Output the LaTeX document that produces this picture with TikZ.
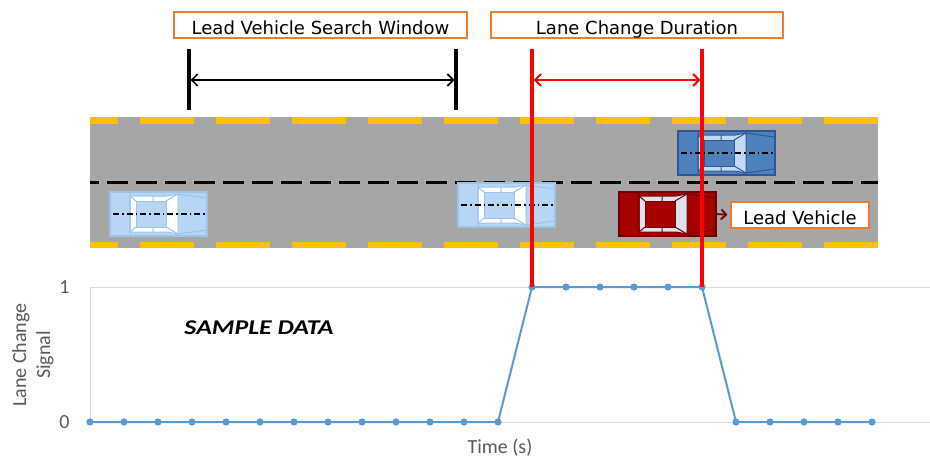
\documentclass[tikz,border=0pt]{standalone}
\usepackage{fontspec}
\setmainfont{DejaVu Sans}
\newfontfamily\chartfont{Carlito}
\newfontfamily\notefont[FakeStretch=1.23]{Carlito}
\usetikzlibrary{arrows.meta,positioning}
\definecolor{roadgray}{RGB}{166,166,166}
\definecolor{laneyellow}{RGB}{255,192,0}
\definecolor{boxorange}{RGB}{237,125,49}
\definecolor{sigblue}{RGB}{91,155,213}
\definecolor{gridgray}{RGB}{217,217,217}
\definecolor{ticktext}{RGB}{89,89,89}
\definecolor{pale}{RGB}{183,214,245}
\definecolor{paleedge}{RGB}{157,195,230}
\definecolor{midblue}{RGB}{79,129,189}
\definecolor{midedge}{RGB}{47,85,151}
\definecolor{midglass}{RGB}{197,217,241}
\definecolor{leadred}{RGB}{166,0,0}
\definecolor{leadedge}{RGB}{112,0,0}
\definecolor{leadglass}{RGB}{222,226,236}
\tikzset{
  pics/car/.style n args={4}{code={
    \draw[fill=#1,draw=#2,line width=1.5] (0,0) rectangle (97,44);
    \draw[fill=#3,draw=#2,line width=1] (20,4) -- (57,4) -- (68,2) -- (68,42) -- (57,40) -- (20,40) -- cycle;
    \draw[fill=#1,draw=#2,line width=1] (26,9) rectangle (56,35);
    \draw[#2,line width=1] (20,4) -- (26,9) (20,40) -- (26,35) (56,9) -- (68,2) (56,35) -- (68,42)
      (43,4) -- (43,9) (43,35) -- (43,40) (68,2) -- (96,6) (68,42) -- (96,38) (20,1) -- (20,43);
    \draw[#4] (3,22) -- (97,22);
  }},
  centerline/.style={black,line width=1.2,dash pattern=on 6pt off 3pt on 1.5pt off 3pt},
  labelbox/.style={draw=boxorange,fill=white,line width=1.2,minimum height=26,inner sep=0,
    text height=18.6,text depth=0,font=\fontsize{18}{20}\selectfont},
  window/.style={line width=3.5},
  duration/.style={red,line width=3.5},
  span/.style={{Straight Barb[length=6,width=12]}-{Straight Barb[length=6,width=12]},line width=1.6},
  grid/.style={gridgray,line width=1},
  signal/.style={sigblue,line width=2},
  tick/.style={ticktext,font=\chartfont\fontsize{20}{24}\selectfont},
}
\begin{document}
\begin{tikzpicture}[x=1pt,y=-1pt]
\useasboundingbox (0,0) rectangle (930,460);
% road
\fill[roadgray] (90,117) rectangle (878,248);
\begin{scope}
  \clip (90,117) rectangle (878,248);
  \foreach \k in {-1,...,9} {
    \fill[laneyellow] (140+76*\k,117) rectangle ++(54,7);
    \fill[laneyellow] (140+76*\k,242) rectangle ++(54,6);
  }
\end{scope}
\draw[line width=3,dash pattern=on 21pt off 8pt,dash phase=12pt] (90,182) -- (878,182);
% vehicles
\pic at (110,192) {car={pale}{paleedge}{white}{centerline}};
\pic at (458,183) {car={pale}{paleedge}{white}{centerline}};
\pic at (678,131) {car={midblue}{midedge}{midglass}{centerline}};
\pic at (619,192) {car={leadred}{leadedge}{leadglass}{draw=none}};
\coordinate (nose) at (716,214);
\node[labelbox,minimum width=138] (leadlbl) at (800,215) {Lead Vehicle};
\draw[leadedge,line width=1.8,-{Straight Barb[length=5,width=10]},shorten >=3] (nose) -- (leadlbl.west);
% search window
\node[labelbox,minimum width=293] (searchlbl) at (320.5,25) {Lead Vehicle Search Window};
\coordinate (swtop) at (189,49);
\coordinate (swbot) at (189,110);
\coordinate (setop) at (456,49);
\coordinate (sebot) at (456,110);
\coordinate (swmid) at (189,80);
\coordinate (semid) at (456,80);
\draw[window] (swtop) -- (swbot);
\draw[window] (setop) -- (sebot);
\draw[span,shorten <=1.5,shorten >=1.5] (swmid) -- (semid);
% signal chart
\coordinate (axtop) at (90,287);
\coordinate (axbot) at (90,422);
\coordinate (gridone) at (930,287);
\coordinate (gridzero) at (930,422);
\draw[grid] (axtop) -- (gridone);
\draw[grid] (axbot) -- (gridzero);
\draw[grid] (axtop) -- (axbot);
\foreach \v [count=\i from 0] in {0,0,0,0,0,0,0,0,0,0,0,0,0,1,1,1,1,1,1,0,0,0,0,0}
  \coordinate (p\i) at (90+34*\i,422-135*\v);
\draw[signal] (p0) \foreach \i in {1,...,23} { -- (p\i) };
\foreach \i in {0,...,23}
  \fill[sigblue] (p\i) circle (3.6);
\node[tick,anchor=east] (one) at (73,287) {1};
\node[tick,anchor=east] (zero) at (73,422) {0};
\node[tick,rotate=90,align=center] (ytitle) at (33,355) {Lane Change\\Signal};
\node[tick] (xtitle) at (500,448) {Time (s)};
\node[font=\notefont\bfseries\itshape\fontsize{21}{24}\selectfont] (sample) at (259,328) {SAMPLE DATA};
% lane change duration
\node[labelbox,minimum width=292] (durlbl) at (637,25) {Lane Change Duration};
\coordinate (lctop) at (532,49);
\coordinate (rctop) at (702,49);
\coordinate (lcmid) at (532,80);
\coordinate (rcmid) at (702,80);
\draw[duration] (lctop) -- (p13);
\draw[duration] (rctop) -- (p18);
\draw[span,red,line width=2,shorten <=1.5,shorten >=1.5] (lcmid) -- (rcmid);
\end{tikzpicture}
\end{document}
